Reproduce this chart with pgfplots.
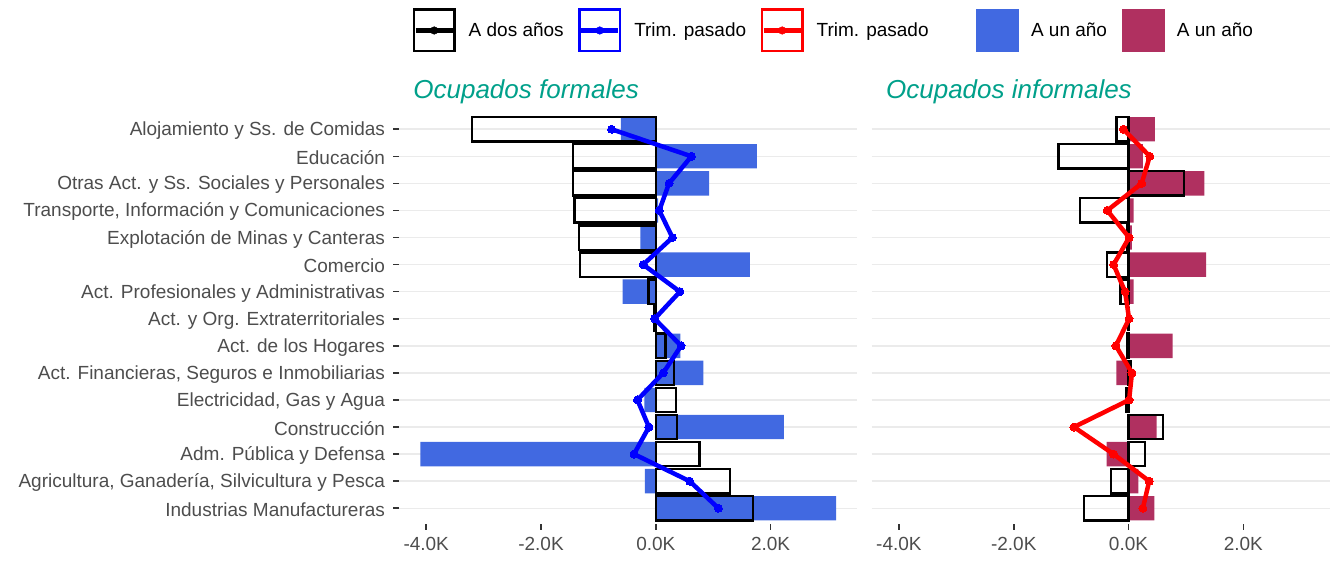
\documentclass[border=0pt]{standalone}
\usepackage{pgfplots}
\pgfplotsset{compat=1.18}
\usepackage{pgfplotstable}
\usepackage{fontspec}
\setmainfont{Liberation Sans}

\definecolor{unoF}{HTML}{4169E1}
\definecolor{unoI}{HTML}{B03060}
\definecolor{titulo}{HTML}{00A08A}
\definecolor{rejilla}{HTML}{EBEBEB}
\definecolor{etiq}{HTML}{4D4D4D}
\definecolor{marca}{HTML}{333333}

% pos 15 = fila de arriba; valores en miles
\pgfplotstableread{
pos fUno fDos fTrim iUno iDos iTrim
15 -0.61 -3.20 -0.77  0.46 -0.21 -0.09
14  1.76 -1.44  0.62  0.25 -1.22  0.37
13  0.93 -1.44  0.23  1.32  0.97  0.23
12  0.04 -1.42  0.06  0.09 -0.85 -0.37
11 -0.27 -1.34  0.29  0.06 -0.03  0.01
10  1.64 -1.32 -0.22  1.35 -0.37 -0.26
9  -0.58 -0.13  0.42  0.09 -0.14 -0.06
8   0.00 -0.02 -0.02  0.00  0.00  0.01
7   0.43  0.17  0.44  0.77 -0.03 -0.22
6   0.83  0.32  0.13 -0.21  0.04  0.06
5  -0.20  0.35 -0.32 -0.02 -0.04  0.01
4   2.23  0.37 -0.12  0.49  0.60 -0.95
3  -4.10  0.76 -0.38 -0.38  0.29 -0.26
2  -0.19  1.29  0.59  0.17 -0.31  0.36
1   3.14  1.69  1.09  0.45 -0.78  0.25
}\datos

\pgfplotsset{
  panel/.style={
    scale only axis, width=458pt, height=411.5pt,
    anchor=south west,
    xmin=-4.474, xmax=3.505, ymin=0.4, ymax=15.6,
    axis x line*=bottom, axis y line*=left, axis line style={draw=none},
    xtick={-4,-2,0,2}, xticklabels={-4.0K,-2.0K,0.0K,2.0K},
    ytick={1,...,15},
    ymajorgrids, grid style={rejilla, line width=1.5pt},
    tick align=outside, major tick length=5.5pt,
    tick style={marca, line width=1.6pt},
    ticklabel style={font=\fontsize{19}{22}\selectfont, text=etiq},
    xticklabel style={yshift=-3.5pt},
    yticklabel style={xshift=-5pt, yshift=-1.5pt},
    title style={at={(axis description cs:0.031,1)}, anchor=base west,
      yshift=8.7pt, inner sep=0pt,
      font=\fontsize{26}{30}\selectfont\itshape, text=titulo},
  },
  anual/.style={xbar, bar width=0.9, bar shift=0pt, draw=none, fill=#1, forget plot},
  bienal/.style={xbar, bar width=0.9, bar shift=0pt, draw=black, fill=none,
    line width=2.4pt, forget plot},
  trim/.style={color=#1, line width=4.5pt, line join=round, mark=*, mark size=4pt,
    mark options={fill=#1, line width=0pt}, forget plot},
  lkey/.style={legend image code/.code={
    \draw[#1, line width=2.4pt, fill=white] (1.2pt,-20.8pt) rectangle (41.8pt,20.8pt);
    \draw[#1, line width=4.5pt] (3pt,0pt) -- (40pt,0pt);
    \fill[#1] (21.5pt,0pt) circle (3.8pt);}},
  fkey/.style={legend image code/.code={
    \fill[#1] (0pt,-21pt) rectangle (42pt,21pt);}},
}

\begin{document}
\begin{tikzpicture}
\path[use as bounding box] (0,0) rectangle (1330pt,561pt);

\begin{axis}[panel, at={(399pt,36.5pt)},
  title={Ocupados formales},
  yticklabels={Industrias Manufactureras,
    {Agricultura, Ganadería, Silvicultura y Pesca},
    Adm. Pública y Defensa, Construcción, {Electricidad, Gas y Agua},
    {Act. Financieras, Seguros e Inmobiliarias}, Act. de los Hogares,
    Act. y Org. Extraterritoriales, Act. Profesionales y Administrativas,
    Comercio, Explotación de Minas y Canteras,
    {Transporte, Información y Comunicaciones},
    Otras Act. y Ss. Sociales y Personales, Educación,
    Alojamiento y Ss. de Comidas},
  legend columns=5,
  legend cell align=left,
  legend style={at={(axis description cs:0.0299,1.2005)}, anchor=west,
    draw=none, fill=none, inner sep=0pt, outer sep=0pt,
    font=\fontsize{19}{22}\selectfont, nodes={inner sep=0pt},
    /tikz/every odd column/.append style={column sep=13pt},
    /tikz/every even column/.append style={column sep=14.5pt}},
]
\addlegendimage{lkey=black}\addlegendentry{A dos años}
\addlegendimage{lkey=blue}\addlegendentry{Trim. pasado}
\addlegendimage{lkey=red}\addlegendentry{Trim. pasado\hspace*{32.5pt}}
\addlegendimage{fkey=unoF}\addlegendentry{A un año}
\addlegendimage{fkey=unoI}\addlegendentry{A un año}

\addplot[anual=unoF] table[x=fUno, y=pos] {\datos};
\addplot[bienal] table[x=fDos, y=pos] {\datos};
\addplot[trim=blue] table[x=fTrim, y=pos] {\datos};
\end{axis}

\begin{axis}[panel, at={(871.7pt,36.5pt)},
  title={Ocupados informales},
  yticklabels={}, ytick style={draw=none},
]
\addplot[anual=unoI] table[x=iUno, y=pos] {\datos};
\addplot[bienal] table[x=iDos, y=pos] {\datos};
\addplot[trim=red] table[x=iTrim, y=pos] {\datos};
\end{axis}
\end{tikzpicture}
\end{document}
